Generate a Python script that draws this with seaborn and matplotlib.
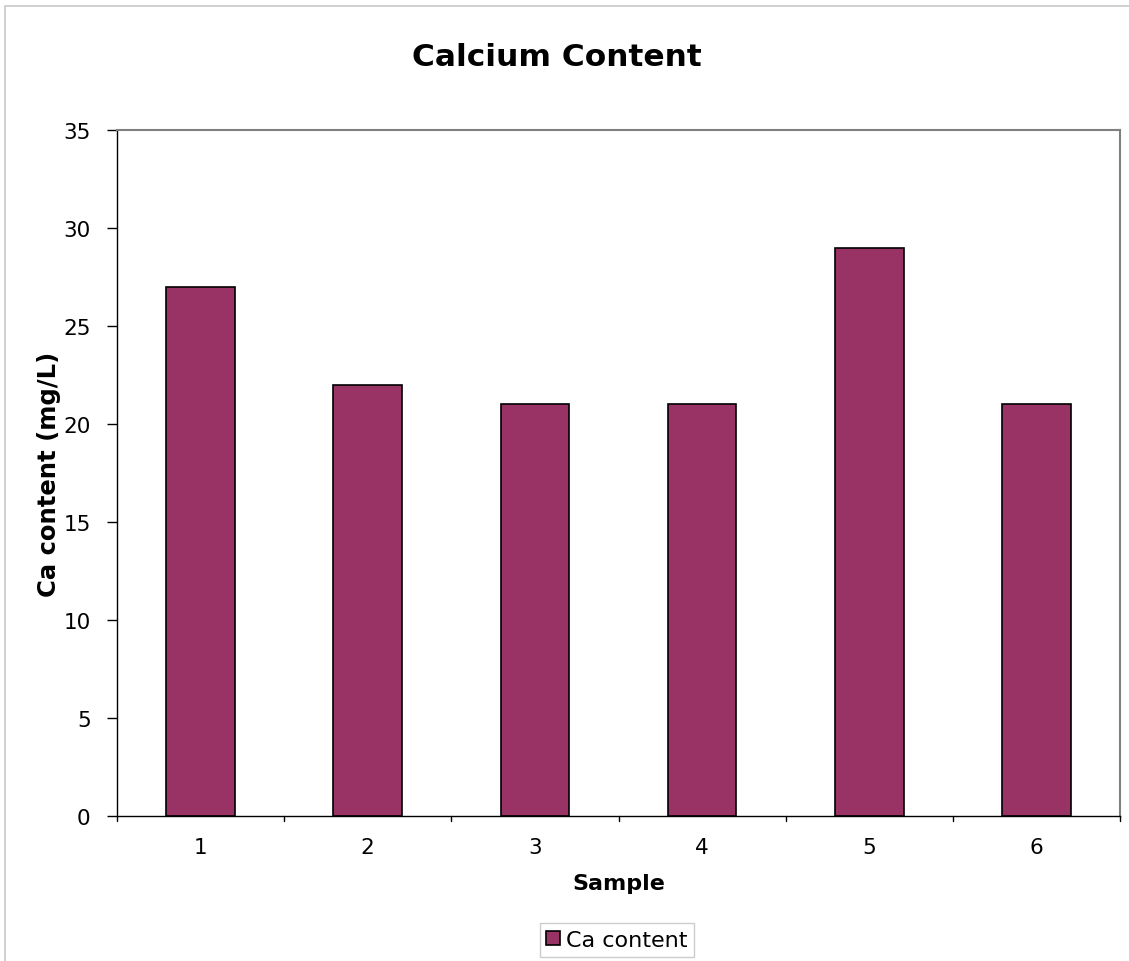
import matplotlib
matplotlib.use("Agg")
import matplotlib.pyplot as plt
import seaborn as sns
import pandas as pd
from matplotlib.patches import Rectangle

samples = ["1", "2", "3", "4", "5", "6"]
ca_content = [27, 22, 21, 21, 29, 21]
y_ticks = [0, 5, 10, 15, 20, 25, 30, 35]

df = pd.DataFrame({"Sample": samples, "Ca content": ca_content})

sns.set_theme(style="white")
plt.rcParams["font.family"] = ["DejaVu Sans"]

fig = plt.figure(figsize=(11.29, 9.62), dpi=100)
ax = fig.add_axes([117 / 1129, 1 - 817 / 962, (1120 - 117) / 1129, (817 - 131) / 962])

bar_color = "#993366"
sns.barplot(data=df, x="Sample", y="Ca content", color=bar_color, saturation=1,
            width=0.41, edgecolor="black", linewidth=1.2, ax=ax, label="Ca content")

ax.set_ylim(0, 35)
ax.set_xlim(-0.5, 5.5)
ax.set_yticks(y_ticks)
ax.set_yticklabels([str(v) for v in y_ticks], fontsize=15.5)
ax.tick_params(axis="x", labelsize=15.5, length=0, pad=15, labelcolor="black")
ax.tick_params(axis="y", direction="out", length=7, width=1, color="black", pad=12,
               left=True, labelcolor="black")

# category separators on the x axis
for i in range(7):
    ax.plot([i - 0.5, i - 0.5], [0, -0.25], color="black", lw=1, clip_on=False,
            transform=ax.transData)

for side in ["top", "right"]:
    ax.spines[side].set_color("#808080")
    ax.spines[side].set_linewidth(1.5)
for side in ["left", "bottom"]:
    ax.spines[side].set_color("black")
    ax.spines[side].set_linewidth(1)

ax.set_xlabel("Sample", fontsize=16, fontweight="bold", labelpad=12, color="black")
ax.set_ylabel("Ca content (mg/L)", fontsize=17.5, fontweight="bold", color="black")
ax.yaxis.set_label_coords(-56 / 1003, 0.5)

fig.text(557 / 1129, 1 - 57 / 962, "Calcium Content", fontsize=22.5, fontweight="bold",
         ha="center", va="center", color="black")

leg = ax.legend(loc="center", bbox_to_anchor=(617 / 1129, 1 - 941 / 962),
                bbox_transform=fig.transFigure, fontsize=16, frameon=True, fancybox=False,
                handlelength=0.6, handleheight=0.6, handletextpad=0.3, borderpad=0.3,
                labelcolor="black")
leg.get_frame().set_edgecolor("#c0c0c0")
leg.get_frame().set_linewidth(1)

# outer chart frame
fig.patches.append(Rectangle((5 / 1129, -0.01), 1.1, 1 - 7 / 962 + 0.01,
                             transform=fig.transFigure, fill=False,
                             edgecolor="#c8c8c8", linewidth=1.2))

fig.savefig("out.png", dpi=100)
